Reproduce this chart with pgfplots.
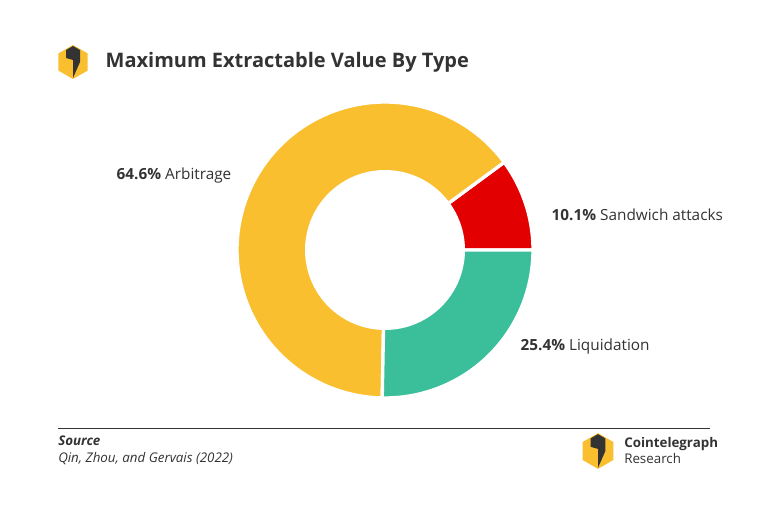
\documentclass[border=0pt]{standalone}
\usepackage{pgfplots}
\pgfplotsset{compat=1.18}
\usetikzlibrary{calc}
\usepackage{fontspec}
\setmainfont{Open Sans}
\definecolor{cy}{HTML}{F9BF2F}
\definecolor{cr}{HTML}{E30000}
\definecolor{cg}{HTML}{3BBF9A}
\definecolor{tx}{HTML}{333333}
\begin{document}
\begin{tikzpicture}[x=0.75pt,y=0.75pt]
\fill[white] (0,0) rectangle (770,514);
\begin{axis}[at={(0,0)},anchor=south west,scale only axis,width=577.5pt,height=385.5pt,
 xmin=0,xmax=770,ymin=0,ymax=514,hide axis,clip=false]
% data: shares in percent
\def\cx{385}\def\cy{264}
\addplot[fill=cr,draw=white,line width=2.5pt,domain=0:36.36,samples=40,variable=\t]
 ({\cx+148*cos(\t)},{\cy+148*sin(\t)}) -- (axis cs:385,264) -- cycle;
\addplot[fill=cy,draw=white,line width=2.5pt,domain=36.36:268.92,samples=120,variable=\t]
 ({\cx+148*cos(\t)},{\cy+148*sin(\t)}) -- (axis cs:385,264) -- cycle;
\addplot[fill=cg,draw=white,line width=2.5pt,domain=268.92:360,samples=50,variable=\t]
 ({\cx+148*cos(\t)},{\cy+148*sin(\t)}) -- (axis cs:385,264) -- cycle;
\addplot[fill=white,draw=none,domain=0:360,samples=120,variable=\t]
 ({\cx+80*cos(\t)},{\cy+80*sin(\t)}) -- cycle;
\node[anchor=west,text=tx,font=\fontsize{15}{18}\selectfont\bfseries] at (axis cs:101,452) {Maximum Extractable Value By Type};
\node[anchor=east,text=tx,font=\fontsize{11.5}{14}\selectfont] at (axis cs:236,338) {\textbf{64.6\%} Arbitrage};
\node[anchor=west,text=tx,font=\fontsize{11.5}{14}\selectfont] at (axis cs:547,299) {\textbf{10.1\%} Sandwich attacks};
\node[anchor=west,text=tx,font=\fontsize{11.5}{14}\selectfont] at (axis cs:516,167) {\textbf{25.4\%} Liquidation};
\draw[tx,line width=0.6pt] (axis cs:58,86) -- (axis cs:710,86);
\node[anchor=west,text=tx,font=\fontsize{10}{12}\selectfont\bfseries\itshape,inner sep=0] at (axis cs:58,73) {Source};
\node[anchor=west,text=tx,font=\fontsize{10}{12}\selectfont\itshape,inner sep=0] at (axis cs:58,55) {Qin, Zhou, and Gervais (2022)};
\node[anchor=west,text=tx,font=\fontsize{10}{12}\selectfont\bfseries,inner sep=0] at (axis cs:624,70) {Cointelegraph};
\node[anchor=west,text=tx,font=\fontsize{10}{12}\selectfont,inner sep=0] at (axis cs:624,56) {Research};
\end{axis}
% logos
\foreach \lx/\ly/\s in {73/452/1, 598/63/1.05}{
 \fill[cy] ($(\lx,\ly)+(90:17*\s)$) -- ($(\lx,\ly)+(150:17*\s)$) -- ($(\lx,\ly)+(210:17*\s)$) -- ($(\lx,\ly)+(270:17*\s)$) -- ($(\lx,\ly)+(330:17*\s)$) -- ($(\lx,\ly)+(30:17*\s)$) -- cycle;
 \fill[tx] ($(\lx,\ly)+(-7*\s,12*\s)$) -- ($(\lx,\ly)+(0,16*\s)$) -- ($(\lx,\ly)+(7*\s,12*\s)$) -- ($(\lx,\ly)+(7*\s,0)$) -- ($(\lx,\ly)+(0,-16*\s)$) -- ($(\lx,\ly)+(0,2*\s)$) -- ($(\lx,\ly)+(-7*\s,4*\s)$) -- cycle;
}
\end{tikzpicture}
\end{document}
